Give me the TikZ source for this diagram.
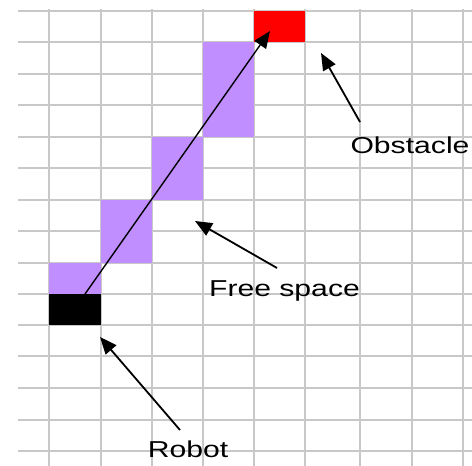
\documentclass[tikz,border=0pt]{standalone}
\usepackage{graphicx}
\usepackage{fontspec}
\setmainfont{Liberation Sans}
\usetikzlibrary{arrows.meta}
\definecolor{gridgray}{RGB}{200,200,200}
\definecolor{freepurple}{RGB}{192,142,255}
\definecolor{obsred}{RGB}{255,0,0}
\tikzset{
  gridline/.style={draw=gridgray, line width=1.3pt},
  cellfill/.style={fill=#1, draw=none},
  pointer/.style={draw=black, line width=1.8pt, -{Triangle[length=17pt,width=14pt]}},
  pathline/.style={draw=black, line width=1.4pt, -{Triangle[length=17pt,width=14pt]}},
  label/.style={anchor=base, inner sep=0pt, font=\fontsize{23}{27}\selectfont}
}
\newcommand{\wide}[1]{\scalebox{1.31}[1]{#1}}
\begin{document}
\begin{tikzpicture}[x=1pt,y=-1pt]
\useasboundingbox (0,0) rectangle (472,466);
\fill[white] (0,0) rectangle (472,466);
% grid
\foreach \gx in {49,101,152,203,254,305,360,412,463}
  \draw[gridline] (\gx,9) -- (\gx,466);
\foreach \gy in {11,42,74,105,137,168,200,231,263,294,325,356,388,420,451}
  \draw[gridline] (18,\gy) -- (472,\gy);
% cells
\fill[cellfill=freepurple] (203,42) rectangle (254,137);
\fill[cellfill=freepurple] (152,137) rectangle (203,200);
\fill[cellfill=freepurple] (101,200) rectangle (152,263);
\fill[cellfill=freepurple] (49,263) rectangle (101,294);
\fill[cellfill=black] (49,294) rectangle (101,325);
\fill[cellfill=obsred] (254,11) rectangle (305,42);
% labels
\node[label] (obstacle) at (410,153) {\wide{Obstacle}};
\node[label] (free) at (284.5,296) {\wide{Free space}};
\node[label] (robot) at (188,457) {\wide{Robot}};
% connector endpoints
\coordinate (start) at (85,294);
\coordinate (goal) at (270,31);
\coordinate (obstail) at (360,122);
\coordinate (obstip) at (321,53);
\coordinate (freetail) at (277,268);
\coordinate (freetip) at (195,221);
\coordinate (robtail) at (180,430);
\coordinate (robtip) at (100,337);
% arrows
\draw[pathline] (start) -- (goal);
\draw[pointer] (obstail) -- (obstip);
\draw[pointer] (freetail) -- (freetip);
\draw[pointer] (robtail) -- (robtip);
\end{tikzpicture}
\end{document}
